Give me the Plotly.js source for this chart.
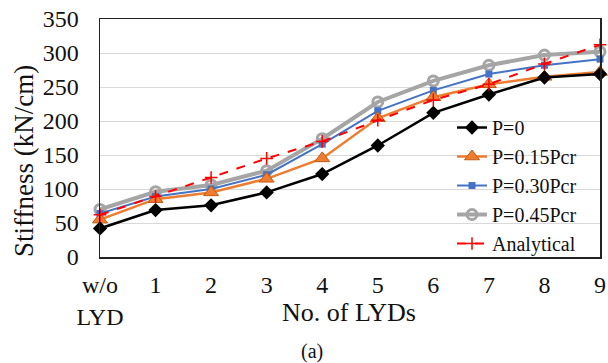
<!DOCTYPE html>
<html>
<head>
<meta charset="utf-8">
<script src="https://cdn.plot.ly/plotly-3.0.1.min.js"></script>
<style>html,body{margin:0;padding:0;background:#fff}#chart{width:608px;height:363px}</style>
</head>
<body>
<div id="chart"></div>
<script>
const xPos = [0,1,2,3,4,5,6,7,8,9];
const tickLabels = ["w/o<br>LYD","1","2","3","4","5","6","7","8","9"];
const p0     = [42, 69, 76, 95, 122, 164, 212, 239, 264, 269];
const p015   = [55, 85, 95, 115, 145, 204, 235, 254, 265, 272];
const p030   = [64, 89, 100, 121, 166, 215, 245, 269, 282, 291];
const p045   = [70, 96, 106, 127, 174, 228, 259, 282, 297, 302];
const analytical = [62, 89, 117, 145, 170, 201, 231, 254, 284, 312];

const serif = "'Liberation Serif', 'Times New Roman', serif";

const traces = [
  {x: xPos, y: p045, name: "P=0.45Pcr", mode: "lines+markers", legendrank: 4,
   line: {color: "#A5A5A5", width: 4},
   marker: {symbol: "circle-open", size: 10, color: "#A5A5A5", line: {width: 3, color: "#A5A5A5"}}},
  {x: xPos, y: p030, name: "P=0.30Pcr", mode: "lines+markers", legendrank: 3,
   line: {color: "#4472C4", width: 2},
   marker: {symbol: "square", size: 7, color: "#4472C4"}},
  {x: xPos, y: p015, name: "P=0.15Pcr", mode: "lines+markers", legendrank: 2,
   line: {color: "#ED7D31", width: 2.5},
   marker: {symbol: "triangle-up", size: 13, color: "#ED7D31", line: {width: 1, color: "#C55A11"}}},
  {x: xPos, y: p0, name: "P=0", mode: "lines+markers", legendrank: 1,
   line: {color: "#000000", width: 2.5},
   marker: {symbol: "diamond", size: 11, color: "#000000"}},
  {x: xPos, y: analytical, name: "Analytical", mode: "lines+markers", legendrank: 5,
   line: {color: "#FF0000", width: 2, dash: "dash"},
   marker: {symbol: "cross-thin-open", size: 9, color: "#FF0000", line: {width: 1.5, color: "#FF0000"}}}
];
traces.forEach(t => t.cliponaxis = false);

const layout = {
  width: 608, height: 363,
  margin: {l: 100, r: 8, t: 19, b: 106},
  paper_bgcolor: "#fff", plot_bgcolor: "#fff",
  font: {family: serif, color: "#111", size: 22},
  showlegend: true,
  legend: {x: 0.704, xanchor: "left", y: 0.626, yanchor: "top",
           bgcolor: "rgba(0,0,0,0)", font: {family: serif, size: 20, color: "#111"},
           tracegroupgap: 0},
  xaxis: {range: [0, 9], tickvals: xPos, ticktext: tickLabels, showgrid: false,
          zeroline: false, showline: true, mirror: true, linecolor: "#222", linewidth: 1.5,
          ticks: "", ticklabelstandoff: 6, tickfont: {family: serif, size: 24, color: "#111"}},
  yaxis: {range: [0, 350], dtick: 50, showgrid: true, gridcolor: "#D9D9D9", gridwidth: 1,
          zeroline: false, showline: true, mirror: true, linecolor: "#222", linewidth: 1.5,
          ticks: "", ticklabelstandoff: 15, tickfont: {family: serif, size: 24, color: "#111"}},
  annotations: [
    {text: "Stiffness (kN/cm)", textangle: -90, xref: "paper", yref: "paper", x: -0.152, y: 0.403,
     xanchor: "center", yanchor: "middle", showarrow: false, font: {family: serif, size: 27, color: "#111"}},
    {text: "No. of LYDs", xref: "paper", yref: "paper", x: 0.498, y: -0.235, xanchor: "center", yanchor: "middle",
     showarrow: false, font: {family: serif, size: 26, color: "#111"}},
    {text: "(a)", xref: "paper", yref: "paper", x: 0.424, y: -0.399, xanchor: "center", yanchor: "middle",
     showarrow: false, font: {family: serif, size: 20, color: "#111"}}
  ]
};

Plotly.newPlot("chart", traces, layout, {displayModeBar: false, staticPlot: true});
</script>
</body>
</html>
